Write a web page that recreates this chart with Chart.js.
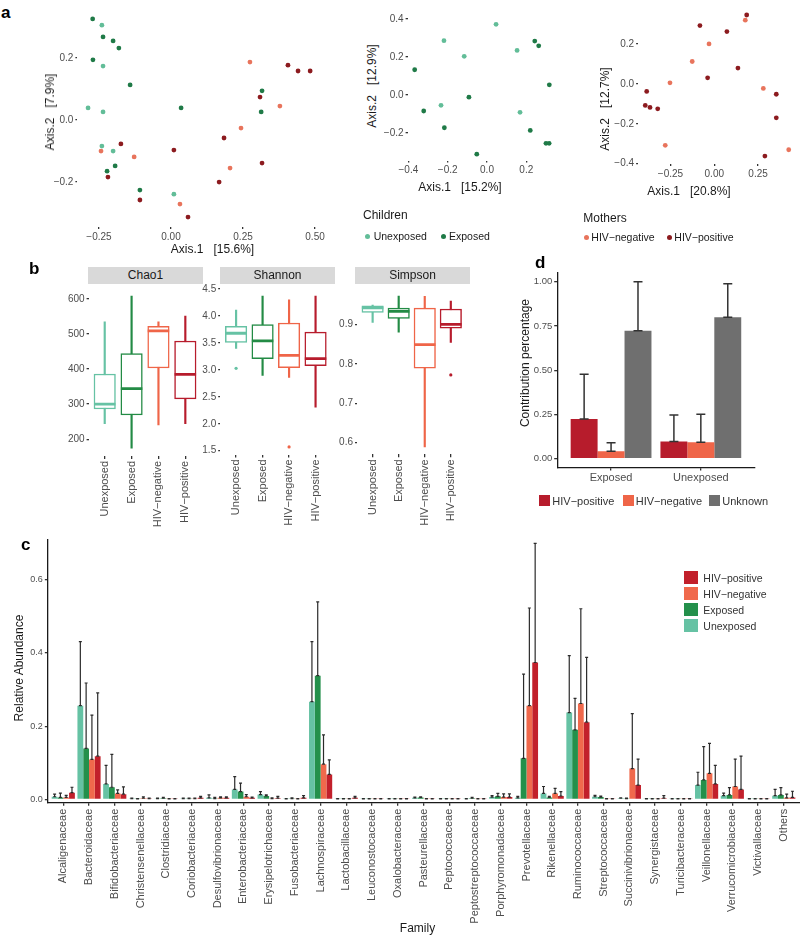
<!DOCTYPE html>
<html>
<head>
<meta charset="utf-8">
<title>Figure</title>
<script src="https://cdn.jsdelivr.net/npm/chart.js@4.4.1/dist/chart.umd.min.js"></script>
<style>
  html, body { margin: 0; padding: 0; background: #ffffff; }
  #root { position: relative; width: 800px; height: 935px; overflow: hidden; background: #fff;
          font-family: "Liberation Sans", Arial, Helvetica, sans-serif; }
  #root canvas { position: absolute; }
  .t { position: absolute; white-space: pre; line-height: 1; color: #1a1a1a; }
  .shape { position: absolute; }
  .strip { position: absolute; background: #d9d9d9; color: #1a1a1a; text-align: center; font-size: 12px; }
</style>
</head>
<body>
<div id="root"></div>
<script>
// ================= DATA =================
// Panel a, left: all samples (PCoA)
const a1UnexposedX = [-0.240, -0.236, -0.288, -0.236, -0.240, -0.201, 0.010];
const a1UnexposedY = [0.306, 0.174, 0.039, 0.026, -0.084, -0.100, -0.239];
const a1ExposedX = [-0.272, -0.236, -0.201, -0.181, -0.271, -0.142, 0.035, -0.194, -0.222, -0.108, 0.316, 0.313];
const a1ExposedY = [0.326, 0.268, 0.255, 0.232, 0.194, 0.113, 0.039, -0.148, -0.165, -0.226, 0.094, 0.026];
const a1NegativeX = [-0.243, -0.128, 0.031, 0.205, 0.243, 0.378, 0.274];
const a1NegativeY = [-0.100, -0.119, -0.271, -0.155, -0.026, 0.045, 0.187];
const a1PositiveX = [-0.174, -0.219, -0.108, 0.059, 0.010, 0.167, 0.184, 0.316, 0.309, 0.406, 0.441, 0.483];
const a1PositiveY = [-0.077, -0.184, -0.258, -0.313, -0.097, -0.200, -0.058, -0.139, 0.074, 0.177, 0.158, 0.158];
// Panel a, middle: children
const a2UnexposedX = [0.046, -0.219, -0.116, 0.153, -0.234, 0.168];
const a2UnexposedY = [0.372, 0.286, 0.204, 0.235, -0.054, -0.091];
const a2ExposedX = [0.243, 0.263, -0.368, 0.317, -0.092, -0.322, -0.217, 0.220, -0.052, 0.300, 0.316];
const a2ExposedY = [0.284, 0.259, 0.133, 0.054, -0.011, -0.084, -0.172, -0.186, -0.311, -0.254, -0.254];
// Panel a, right: mothers
const a3PositiveX = [0.185, -0.082, 0.072, 0.135, -0.038, -0.386, -0.394, -0.367, -0.323, 0.354, 0.354, 0.289];
const a3PositiveY = [0.345, 0.292, 0.262, 0.079, 0.030, -0.038, -0.108, -0.118, -0.125, -0.052, -0.170, -0.362];
const a3NegativeX = [0.177, -0.030, -0.126, -0.253, 0.280, -0.280, 0.425];
const a3NegativeY = [0.319, 0.200, 0.112, 0.005, -0.023, -0.308, -0.330];

// Panel b: alpha diversity boxplots
const boxGroups = ['Unexposed', 'Exposed', 'HIV\u2212negative', 'HIV\u2212positive'];
const chao1Low = [244, 174, 241, 244];
const chao1Q1 = [286, 269, 403, 315];
const chao1Median = [300, 344, 509, 385];
const chao1Q3 = [386, 444, 522, 480];
const chao1High = [535, 608, 535, 551];
const chao1Outlier = [null, null, null, null];
const shannonLow = [3.40, 2.90, 2.86, 2.31];
const shannonQ1 = [3.51, 3.21, 3.04, 3.08];
const shannonMedian = [3.68, 3.54, 3.27, 3.21];
const shannonQ3 = [3.81, 3.84, 3.87, 3.70];
const shannonHigh = [4.11, 4.37, 4.30, 4.37];
const shannonOutlier = [3.03, null, 1.57, null];
const simpsonLow = [0.906, 0.881, 0.589, 0.855];
const simpsonQ1 = [0.931, 0.916, 0.789, 0.891];
const simpsonMedian = [0.943, 0.934, 0.849, 0.901];
const simpsonQ3 = [0.948, 0.942, 0.942, 0.940];
const simpsonHigh = [0.950, 0.973, 0.972, 0.960];
const simpsonOutlier = [null, null, null, 0.772];

// Panel c: relative abundance by family (mean and SD)
const families = ['Alcaligenaceae', 'Bacteroidaceae', 'Bifidobacteriaceae', 'Christensenellaceae', 'Clostridiaceae',
  'Coriobacteriaceae', 'Desulfovibrionaceae', 'Enterobacteriaceae', 'Erysipelotrichaceae', 'Fusobacteriaceae',
  'Lachnospiraceae', 'Lactobacillaceae', 'Leuconostocaceae', 'Oxalobacteraceae', 'Pasteurellaceae',
  'Peptococcaceae', 'Peptostreptococcaceae', 'Porphyromonadaceae', 'Prevotellaceae', 'Rikenellaceae',
  'Ruminococcaceae', 'Streptococcaceae', 'Succinivibrionaceae', 'Synergistaceae', 'Turicibacteraceae',
  'Veillonellaceae', 'Verrucomicrobiaceae', 'Victivallaceae', 'Others'];
const unexposedMean = [0.007, 0.256, 0.042, 0.002, 0.002, 0.002, 0.004, 0.027, 0.013, 0.001, 0.267, 0.001, 0.001, 0.001, 0.004, 0.001, 0.001, 0.006, 0.004, 0.016, 0.237, 0.007, 0.003, 0.001, 0.001, 0.039, 0.010, 0.001, 0.010];
const unexposedSd   = [0.007, 0.175, 0.051, 0.001, 0.001, 0.001, 0.008, 0.035, 0.008, 0.001, 0.164, 0.001, 0.001, 0.001, 0.002, 0.001, 0.001, 0.004, 0.004, 0.019, 0.156, 0.004, 0.001, 0.001, 0.001, 0.035, 0.007, 0.001, 0.017];
const exposedMean   = [0.005, 0.139, 0.033, 0.001, 0.003, 0.002, 0.002, 0.021, 0.009, 0.002, 0.338, 0.001, 0.001, 0.001, 0.005, 0.001, 0.003, 0.008, 0.112, 0.005, 0.190, 0.006, 0.002, 0.001, 0.001, 0.053, 0.012, 0.001, 0.012];
const exposedSd     = [0.012, 0.179, 0.090, 0.001, 0.002, 0.001, 0.003, 0.023, 0.003, 0.002, 0.202, 0.001, 0.001, 0.001, 0.002, 0.001, 0.002, 0.008, 0.230, 0.003, 0.086, 0.003, 0.001, 0.001, 0.001, 0.091, 0.020, 0.001, 0.020];
const negativeMean  = [0.005, 0.109, 0.016, 0.003, 0.001, 0.002, 0.004, 0.007, 0.002, 0.001, 0.096, 0.001, 0.001, 0.001, 0.001, 0.001, 0.001, 0.006, 0.256, 0.016, 0.262, 0.001, 0.084, 0.001, 0.001, 0.071, 0.035, 0.001, 0.004];
const negativeSd    = [0.006, 0.121, 0.010, 0.004, 0.001, 0.001, 0.003, 0.006, 0.002, 0.001, 0.080, 0.001, 0.001, 0.001, 0.001, 0.001, 0.001, 0.009, 0.267, 0.014, 0.259, 0.001, 0.150, 0.001, 0.001, 0.082, 0.075, 0.001, 0.010];
const positiveMean  = [0.018, 0.118, 0.014, 0.002, 0.001, 0.004, 0.004, 0.004, 0.003, 0.004, 0.068, 0.004, 0.001, 0.001, 0.001, 0.001, 0.001, 0.006, 0.374, 0.009, 0.211, 0.001, 0.039, 0.003, 0.001, 0.042, 0.027, 0.001, 0.005];
const positiveSd    = [0.015, 0.173, 0.020, 0.001, 0.001, 0.004, 0.003, 0.002, 0.005, 0.006, 0.040, 0.004, 0.001, 0.001, 0.001, 0.001, 0.001, 0.009, 0.326, 0.012, 0.177, 0.001, 0.071, 0.007, 0.001, 0.051, 0.091, 0.001, 0.017];

// Panel d: source contribution
const sinkGroups = ['Exposed', 'Unexposed'];
const srcPositive = [0.224, 0.098];
const srcPositiveSd = [0.253, 0.149];
const srcNegative = [0.043, 0.093];
const srcNegativeSd = [0.047, 0.159];
const srcUnknown = [0.723, 0.800];
const srcUnknownSd = [0.277, 0.189];

// Tick values
const a1XTicks = [-0.25, 0, 0.25, 0.5], a1YTicks = [-0.2, 0, 0.2];
const a2XTicks = [-0.4, -0.2, 0, 0.2], a2YTicks = [-0.2, 0, 0.2, 0.4];
const a3XTicks = [-0.25, 0, 0.25], a3YTicks = [-0.4, -0.2, 0, 0.2];
const chao1Ticks = [200, 300, 400, 500, 600];
const shannonTicks = [1.5, 2.0, 2.5, 3.0, 3.5, 4.0, 4.5];
const simpsonTicks = [0.6, 0.7, 0.8, 0.9];
const cYTicks = [0, 0.2, 0.4, 0.6];
const dYTicks = [0, 0.25, 0.5, 0.75, 1.0];

// ================= STYLE =================
const COL = {
  aUnexp: '#62bd98', aExp: '#1f7a47', aNeg: '#e8745c', aPos: '#8c1b1f',
  unexp: '#66c2a4', exp: '#238b45', neg: '#ef6548', pos: '#b71c2c',
  cUnexp: '#66c2a4', cExp: '#24904b', cNeg: '#f0694c', cPos: '#c2202b',
  unknown: '#6f6f6f'
};
Chart.defaults.font.family = '"Liberation Sans", Arial, Helvetica, sans-serif';
const root = document.getElementById('root');

function canvasAt(r) {
  const c = document.createElement('canvas');
  c.width = r.w; c.height = r.h;
  c.style.left = r.x + 'px'; c.style.top = r.y + 'px';
  c.style.width = r.w + 'px'; c.style.height = r.h + 'px';
  root.appendChild(c);
  return c;
}
function geom(r, a) {
  return { padding: { left: 0, top: a.t - r.y, right: r.x + r.w - a.r, bottom: 0 }, yW: a.l - r.x, xH: r.y + r.h - a.b };
}
function txt(s, x, y, o = {}) {
  const d = document.createElement('div');
  d.className = 't';
  d.textContent = s;
  d.style.left = x + 'px'; d.style.top = y + 'px';
  d.style.fontSize = (o.size || 12) + 'px';
  if (o.bold) d.style.fontWeight = 'bold';
  if (o.color) d.style.color = o.color;
  let tr = o.center ? 'translate(-50%,-50%)' : 'translate(0,-50%)';
  if (o.rot) tr += ' rotate(' + o.rot + 'deg)';
  d.style.transform = tr;
  root.appendChild(d);
}
function shape(x, y, w, h, color, round) {
  const d = document.createElement('div');
  d.className = 'shape';
  d.style.left = x + 'px'; d.style.top = y + 'px';
  d.style.width = w + 'px'; d.style.height = h + 'px';
  d.style.background = color;
  if (round) d.style.borderRadius = '50%';
  root.appendChild(d);
}
function strip(label, x, y, w, h) {
  const d = document.createElement('div');
  d.className = 'strip';
  d.textContent = label;
  d.style.left = x + 'px'; d.style.top = y + 'px';
  d.style.width = w + 'px'; d.style.height = h + 'px';
  d.style.lineHeight = h + 'px';
  root.appendChild(d);
}
function num(d) {
  return v => (v < -1e-9 ? '\u2212' : '') + Math.abs(v).toFixed(d);
}
function axis(kind, g, min, max, ticks, fmt, o = {}) {
  return {
    type: 'linear', min, max, offset: false,
    afterBuildTicks: s => { s.ticks = ticks.map(v => ({ value: v })); },
    afterFit: kind === 'x' ? (s => { s.height = g.xH; }) : (s => { s.width = g.yW; }),
    grid: { display: true, drawOnChartArea: false, drawTicks: true, offset: false,
            tickLength: o.tickLength ?? 2, tickWidth: o.tickWidth ?? 1.3, tickColor: '#333333', lineWidth: 1.3 },
    border: { display: !!o.border, color: '#1a1a1a', width: 1.3 },
    ticks: { color: o.color || '#4d4d4d', font: { size: o.fontSize || 10 }, padding: o.pad ?? 2, autoSkip: false,
             maxRotation: o.rot || 0, minRotation: o.rot || 0, callback: fmt }
  };
}
function baseOpts(g, scales, plugins) {
  return {
    responsive: false, animation: false, devicePixelRatio: 1, events: [],
    layout: { padding: g.padding }, scales,
    plugins: Object.assign({ legend: { display: false }, tooltip: { enabled: false } }, plugins || {})
  };
}
const errorBarPlugin = {
  id: 'errbars',
  afterDatasetsDraw(chart, args, opts) {
    const ctx = chart.ctx, ys = chart.scales.y;
    chart.data.datasets.forEach((ds, di) => {
      if (!ds.errors) return;
      const meta = chart.getDatasetMeta(di);
      meta.data.forEach((bar, i) => {
        const val = ds.data[i].y;
        const base = ys.getPixelForValue(val);
        const top = ys.getPixelForValue(val + ds.errors[i]);
        const hc = opts.cap / 2;
        ctx.save();
        ctx.strokeStyle = opts.color; ctx.lineWidth = opts.width;
        ctx.beginPath();
        ctx.moveTo(bar.x, base); ctx.lineTo(bar.x, top);
        ctx.moveTo(bar.x - hc, top); ctx.lineTo(bar.x + hc, top);
        ctx.moveTo(bar.x - hc, base); ctx.lineTo(bar.x + hc, base);
        ctx.stroke();
        ctx.restore();
      });
    });
  }
};

// ================= PANEL a =================
function scatterPanel(rect, area, xr, yr, xt, yt, xd, yd, groups) {
  const g = geom(rect, area);
  new Chart(canvasAt(rect), {
    type: 'scatter',
    data: { datasets: groups.map(gr => ({
      data: gr.xs.map((x, i) => ({ x, y: gr.ys[i] })),
      pointRadius: 2.4, pointHoverRadius: 2.4, pointBackgroundColor: gr.color, pointBorderWidth: 0
    })) },
    options: baseOpts(g, {
      x: axis('x', g, xr[0], xr[1], xt, num(xd), { fontSize: 10 }),
      y: axis('y', g, yr[0], yr[1], yt, num(yd), { fontSize: 10 })
    })
  });
}
scatterPanel({ x: 25, y: 0, w: 320, h: 265 }, { l: 77.4, t: 9, r: 320.8, b: 227 },
  [-0.325, 0.52], [-0.345, 0.358], a1XTicks, a1YTicks, 2, 1, [
    { xs: a1UnexposedX, ys: a1UnexposedY, color: COL.aUnexp },
    { xs: a1ExposedX, ys: a1ExposedY, color: COL.aExp },
    { xs: a1NegativeX, ys: a1NegativeY, color: COL.aNeg },
    { xs: a1PositiveX, ys: a1PositiveY, color: COL.aPos }
  ]);
scatterPanel({ x: 380, y: 0, w: 190, h: 185 }, { l: 407.6, t: 17.9, r: 556.2, b: 160.6 },
  [-0.404, 0.352], [-0.345, 0.406], a2XTicks, a2YTicks, 1, 1, [
    { xs: a2UnexposedX, ys: a2UnexposedY, color: COL.aUnexp },
    { xs: a2ExposedX, ys: a2ExposedY, color: COL.aExp }
  ]);
scatterPanel({ x: 610, y: 0, w: 190, h: 185 }, { l: 638.1, t: 7.7, r: 795.9, b: 164.1 },
  [-0.435, 0.466], [-0.402, 0.380], a3XTicks, a3YTicks, 2, 1, [
    { xs: a3NegativeX, ys: a3NegativeY, color: COL.aNeg },
    { xs: a3PositiveX, ys: a3PositiveY, color: COL.aPos }
  ]);
txt('a', 1, 12, { size: 17, bold: true, color: '#000' });
txt('Axis.1   [15.6%]', 212.5, 249, { center: true });
txt('Axis.2   [7.9%]', 50, 112, { center: true, rot: -90 });
txt('Axis.1   [15.2%]', 460, 187, { center: true });
txt('Axis.2   [12.9%]', 372, 86, { center: true, rot: -90 });
txt('Axis.1   [20.8%]', 689, 190.7, { center: true });
txt('Axis.2   [12.7%]', 605, 109, { center: true, rot: -90 });
// legends
txt('Children', 363, 215, { size: 12 });
shape(364.5, 233.5, 5, 5, COL.aUnexp, true); txt('Unexposed', 373.7, 236, { size: 10.5 });
shape(440.8, 233.5, 5, 5, COL.aExp, true); txt('Exposed', 449, 236, { size: 10.5 });
txt('Mothers', 583.3, 218.3, { size: 12 });
shape(583.5, 234.8, 5, 5, COL.aNeg, true); txt('HIV\u2212negative', 591.3, 237.3, { size: 10.5 });
shape(666.8, 234.8, 5, 5, COL.aPos, true); txt('HIV\u2212positive', 674.3, 237.3, { size: 10.5 });

// ================= PANEL b =================
function boxPanel(rect, area, yr, yt, yd, low, q1, med, q3, high, out) {
  const g = geom(rect, area);
  const colors = [COL.unexp, COL.exp, COL.neg, COL.pos];
  const xs = boxGroups.map((_, i) => i + 1);
  new Chart(canvasAt(rect), {
    type: 'bar',
    data: { datasets: [
      { type: 'bar', order: 3, grouped: false, barThickness: 1.5, backgroundColor: colors, borderWidth: 0,
        data: xs.map((x, i) => ({ x, y: [low[i], high[i]] })) },
      { type: 'bar', order: 2, grouped: false, barThickness: 21.5, backgroundColor: '#ffffff', borderColor: colors,
        borderWidth: 1.5, borderSkipped: false, data: xs.map((x, i) => ({ x, y: [q1[i], q3[i]] })) },
      { type: 'line', order: 1, showLine: false, pointStyle: 'line', pointRadius: 10.75, pointHoverRadius: 10.75,
        pointBorderWidth: 2.8, pointBorderColor: colors, borderColor: colors,
        data: xs.map((x, i) => ({ x, y: med[i] })) },
      { type: 'line', order: 0, showLine: false, pointStyle: 'circle', pointRadius: 1.6, pointHoverRadius: 1.6,
        pointBorderWidth: 0, pointBackgroundColor: colors,
        data: xs.map((x, i) => ({ x, y: out[i] })) }
    ] },
    options: baseOpts(g, {
      x: axis('x', g, 0.4, 4.6, xs, v => boxGroups[v - 1], { fontSize: 11, rot: 90, tickLength: 3, pad: 2 }),
      y: axis('y', g, yr[0], yr[1], yt, num(yd), { fontSize: 10, tickLength: 2, pad: 2 })
    })
  });
}
boxPanel({ x: 50, y: 275, w: 165, h: 265 }, { l: 88.6, t: 283.3, r: 203.7, b: 455.9 }, [152.3, 629.7], chao1Ticks, 0,
  chao1Low, chao1Q1, chao1Median, chao1Q3, chao1High, chao1Outlier);
boxPanel({ x: 190, y: 275, w: 155, h: 265 }, { l: 220.2, t: 283.8, r: 335.8, b: 454.5 }, [1.43, 4.51], shannonTicks, 1,
  shannonLow, shannonQ1, shannonMedian, shannonQ3, shannonHigh, shannonOutlier);
boxPanel({ x: 325, y: 275, w: 155, h: 265 }, { l: 357, t: 284.2, r: 471, b: 454.3 }, [0.570, 0.992], simpsonTicks, 1,
  simpsonLow, simpsonQ1, simpsonMedian, simpsonQ3, simpsonHigh, simpsonOutlier);
strip('Chao1', 88, 267, 115, 17);
strip('Shannon', 220, 267, 115, 17);
strip('Simpson', 355, 267, 115, 17);
txt('b', 29, 267.5, { size: 17, bold: true, color: '#000' });

// ================= PANEL c =================
(function () {
  const rect = { x: 0, y: 530, w: 800, h: 405 };
  const g = geom(rect, { l: 47.85, t: 540, r: 799.8, b: 802.7 });
  const xs = families.map((_, i) => i + 1);
  const series = [
    { mean: unexposedMean, sd: unexposedSd, color: COL.cUnexp },
    { mean: exposedMean, sd: exposedSd, color: COL.cExp },
    { mean: negativeMean, sd: negativeSd, color: COL.cNeg },
    { mean: positiveMean, sd: positiveSd, color: COL.cPos }
  ];
  new Chart(canvasAt(rect), {
    type: 'bar',
    data: { datasets: series.map(s => ({
      data: s.mean.map((v, i) => ({ x: xs[i], y: v })), errors: s.sd,
      backgroundColor: s.color, borderWidth: 0, categoryPercentage: 0.9, barPercentage: 1
    })) },
    options: baseOpts(g, {
      x: axis('x', g, 0.4, 29.6, xs, v => families[v - 1], { fontSize: 11, rot: 90, tickLength: 3, pad: 3, border: true }),
      y: axis('y', g, -0.0093, 0.709, cYTicks, num(1), { fontSize: 9, tickLength: 3, pad: 2, border: true })
    }, { errbars: { color: '#2b2b2b', width: 1.2, cap: 3 } }),
    plugins: [errorBarPlugin]
  });
})();
txt('c', 21, 544, { size: 17, bold: true, color: '#000' });
txt('Relative Abundance', 19, 668, { center: true, rot: -90 });
txt('Family', 417.5, 928, { center: true });
shape(684.3, 570.7, 14, 13.7, COL.cPos); txt('HIV\u2212positive', 703.3, 577.5, { size: 10.5, color: '#333' });
shape(684.3, 586.7, 14, 13.7, COL.cNeg); txt('HIV\u2212negative', 703.3, 593.5, { size: 10.5, color: '#333' });
shape(684.3, 602.7, 14, 13.7, COL.cExp); txt('Exposed', 703.3, 609.5, { size: 10.5, color: '#333' });
shape(684.3, 618.7, 14, 13.7, COL.cUnexp); txt('Unexposed', 703.3, 625.5, { size: 10.5, color: '#333' });

// ================= PANEL d =================
(function () {
  const rect = { x: 505, y: 262, w: 270, h: 233 };
  const g = geom(rect, { l: 557.2, t: 272.9, r: 754.7, b: 467.6 });
  const xs = sinkGroups.map((_, i) => i + 1);
  const series = [
    { v: srcPositive, sd: srcPositiveSd, color: COL.pos },
    { v: srcNegative, sd: srcNegativeSd, color: COL.neg },
    { v: srcUnknown, sd: srcUnknownSd, color: COL.unknown }
  ];
  new Chart(canvasAt(rect), {
    type: 'bar',
    data: { datasets: series.map(s => ({
      data: s.v.map((v, i) => ({ x: xs[i], y: v })), errors: s.sd,
      backgroundColor: s.color, borderWidth: 0, categoryPercentage: 0.9, barPercentage: 1
    })) },
    options: baseOpts(g, {
      x: axis('x', g, 0.4, 2.6, xs, v => sinkGroups[v - 1], { fontSize: 11, tickLength: 3, pad: 1, border: true }),
      y: axis('y', g, -0.05, 1.05, dYTicks, num(2), { fontSize: 9.5, tickLength: 3, pad: 2, border: true })
    }, { errbars: { color: '#333333', width: 1.5, cap: 9 } }),
    plugins: [errorBarPlugin]
  });
})();
txt('d', 535, 262, { size: 17, bold: true, color: '#000' });
txt('Contribution percentage', 525, 363, { center: true, rot: -90 });
shape(539.3, 495, 11, 11, COL.pos); txt('HIV\u2212positive', 552.3, 500.5, { size: 11, color: '#333' });
shape(622.7, 495, 11, 11, COL.neg); txt('HIV\u2212negative', 635.7, 500.5, { size: 11, color: '#333' });
shape(709.3, 495, 11, 11, COL.unknown); txt('Unknown', 722.3, 500.5, { size: 11, color: '#333' });
</script>
</body>
</html>
